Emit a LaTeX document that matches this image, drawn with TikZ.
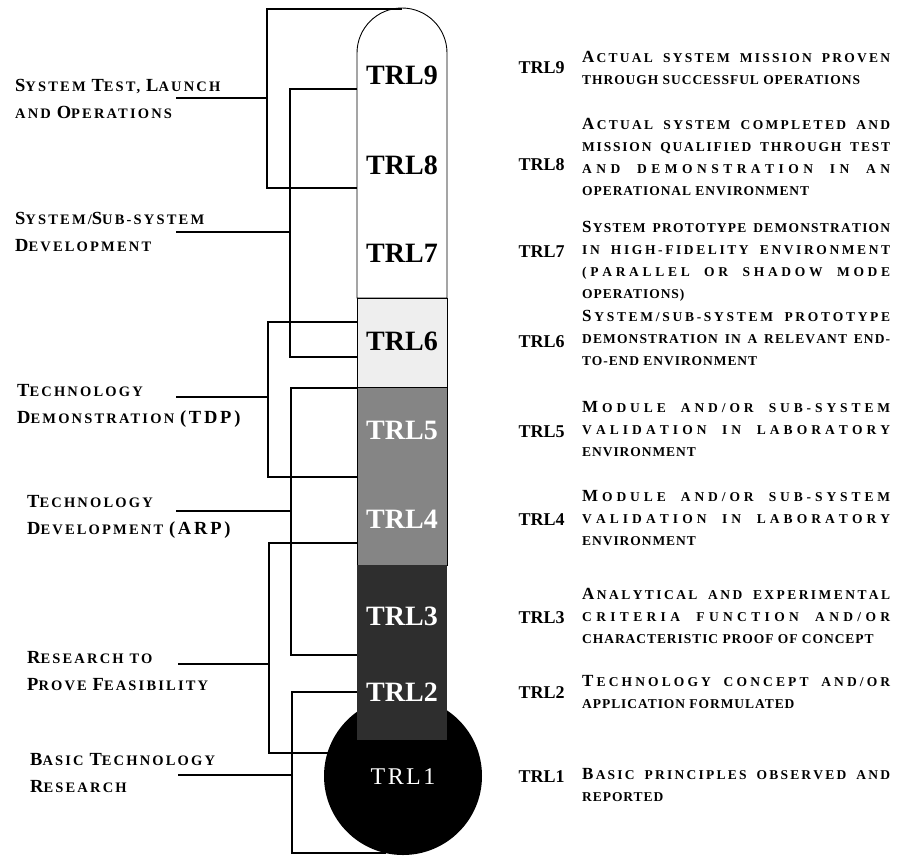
\documentclass[tikz,border=0pt]{standalone}
\usepackage{fontspec}
\setmainfont{Liberation Serif}
\newfontfamily\GrpFont[LetterSpace=15]{Liberation Serif Bold}
\newfontfamily\DescFont[LetterSpace=7]{Liberation Serif Bold}
\newfontfamily\BulbFont[LetterSpace=10]{Liberation Serif}
\usetikzlibrary{calc}
\definecolor{ThermoPale}{HTML}{EEEEEE}
\definecolor{ThermoMid}{HTML}{858585}
\definecolor{ThermoDark}{HTML}{2E2E2E}

\newcommand\GrpCap[1]{{\fontsize{18.5}{27}\selectfont #1}}
\newcommand\DescCap[1]{{\fontsize{17}{22}\selectfont #1}}
\ExplSyntaxOn
\NewDocumentCommand\DescSpread{m}{
  \str_map_inline:nn {#1}
    { \str_if_eq:nnTF {##1} {~} { \hskip 0.25em \hfil \hfil } { ##1 \hfil } }
  \unskip
}
\ExplSyntaxOff
\newcommand\DescLine[2]{\hbox to 308pt{\DescCap{#1}\hfil\DescSpread{#2}}}
\newcommand\DescFill[1]{\hbox to 308pt{\DescSpread{#1}}}

\tikzset{
  bracket/.style={line width=2.8pt},
  tubelbl/.style={font=\fontsize{28}{30}\selectfont\bfseries},
  sidelbl/.style={anchor=west,font=\fontsize{18}{20}\selectfont\bfseries},
  grplbl/.style={anchor=north west,align=left,inner sep=0pt,font=\GrpFont\fontsize{14.5}{27}\selectfont},
  desc/.style={anchor=north west,align=left,inner sep=0pt,font=\DescFont\fontsize{13.5}{22}\selectfont},
}

\begin{document}
\begin{tikzpicture}[x=1pt,y=1pt]
\useasboundingbox (0,0) rectangle (897,-855);
\fill[white] (0,0) rectangle (897,-855);
% thermometer
\fill[black] (403,-776) circle (79);
\draw[line width=0.9pt,fill=white] (357,-298) -- (357,-53) arc (180:0:45) -- (447,-298) -- cycle;
\draw[line width=0.9pt,fill=ThermoPale] (357,-298) rectangle (447,-387);
\draw[line width=0.9pt,fill=ThermoMid] (357,-387) rectangle (447,-565);
\fill[ThermoDark] (357,-565) rectangle (447,-740);
\node[tubelbl] (t9) at (402,-75) {TRL9};
\node[tubelbl] (t8) at (402,-165) {TRL8};
\node[tubelbl] (t7) at (402,-253) {TRL7};
\node[tubelbl] (t6) at (402,-341) {TRL6};
\node[tubelbl,text=white] (t5) at (402,-430) {TRL5};
\node[tubelbl,text=white] (t4) at (402,-519) {TRL4};
\node[tubelbl,text=white] (t3) at (402,-616) {TRL3};
\node[tubelbl,text=white] (t2) at (402,-692) {TRL2};
\node[text=white,font=\BulbFont\fontsize{24}{26}\selectfont] (t1) at (403,-777) {TRL1};

% stage groups on the left
\node[grplbl] (g1) at (15,-79) {\GrpCap{S}YSTEM \GrpCap{T}EST, \GrpCap{L}AUNCH\\AND \GrpCap{O}PERATIONS};
\node[grplbl] (g2) at (15,-212) {\GrpCap{S}YSTEM/\GrpCap{S}UB-SYSTEM\\\GrpCap{D}EVELOPMENT};
\node[grplbl] (g3) at (17,-384) {\GrpCap{T}ECHNOLOGY\\\GrpCap{D}EMONSTRATION \GrpCap{(TDP)}};
\node[grplbl] (g4) at (27,-495) {\GrpCap{T}ECHNOLOGY\\\GrpCap{D}EVELOPMENT \GrpCap{(ARP)}};
\node[grplbl] (g5) at (27,-651) {\GrpCap{R}ESEARCH TO\\\GrpCap{P}ROVE \GrpCap{F}EASIBILITY};
\node[grplbl] (g6) at (30,-753) {\GrpCap{B}ASIC \GrpCap{T}ECHNOLOGY\\\GrpCap{R}ESEARCH};

\coordinate (g1s) at (176,-98);  \coordinate (g1j) at (267,-98);
\coordinate (g1t) at (402,-9);   \coordinate (g1b) at (357,-188);
\coordinate (g2s) at (176,-232); \coordinate (g2j) at (290,-232);
\coordinate (g2t) at (357,-89);  \coordinate (g2b) at (357,-357);
\coordinate (g3s) at (176,-397); \coordinate (g3j) at (268,-397);
\coordinate (g3t) at (357,-322); \coordinate (g3b) at (357,-477);
\coordinate (g4s) at (176,-511); \coordinate (g4j) at (291,-511);
\coordinate (g4t) at (357,-388); \coordinate (g4b) at (357,-655);
\coordinate (g5s) at (178,-664); \coordinate (g5j) at (269,-664);
\coordinate (g5t) at (357,-543); \coordinate (g5b) at (330,-753);
\coordinate (g6s) at (178,-775); \coordinate (g6j) at (292,-775);
\coordinate (g6t) at (357,-692); \coordinate (g6b) at (386,-853);
\draw[bracket] (g1t) -| (g1j) |- (g1b); \draw[bracket] (g1s) -- (g1j);
\draw[bracket] (g2t) -| (g2j) |- (g2b); \draw[bracket] (g2s) -- (g2j);
\draw[bracket] (g3t) -| (g3j) |- (g3b); \draw[bracket] (g3s) -- (g3j);
\draw[bracket] (g4t) -| (g4j) |- (g4b); \draw[bracket] (g4s) -- (g4j);
\draw[bracket] (g5t) -| (g5j) |- (g5b); \draw[bracket] (g5s) -- (g5j);
\draw[bracket] (g6t) -| (g6j) |- (g6b); \draw[bracket] (g6s) -- (g6j);

% level descriptions on the right
\node[sidelbl] (r9) at (515,-68) {TRL9};
\node[sidelbl] (r8) at (515,-165) {TRL8};
\node[sidelbl] (r7) at (515,-252) {TRL7};
\node[sidelbl] (r6) at (515,-342) {TRL6};
\node[sidelbl] (r5) at (515,-432) {TRL5};
\node[sidelbl] (r4) at (515,-520) {TRL4};
\node[sidelbl] (r3) at (515,-618) {TRL3};
\node[sidelbl] (r2) at (515,-693) {TRL2};
\node[sidelbl] (r1) at (515,-777) {TRL1};
\node[desc] (d9) at (582,-51) {\DescLine{A}{CTUAL SYSTEM MISSION PROVEN}\\THROUGH SUCCESSFUL OPERATIONS};
\node[desc] (d8) at (582,-118) {\DescLine{A}{CTUAL SYSTEM COMPLETED AND}\\\DescFill{MISSION QUALIFIED THROUGH TEST}\\\DescFill{AND DEMONSTRATION IN AN}\\OPERATIONAL ENVIRONMENT};
\node[desc] (d7) at (582,-221) {\DescLine{S}{YSTEM PROTOTYPE DEMONSTRATION}\\\DescFill{IN HIGH-FIDELITY ENVIRONMENT}\\\DescFill{(PARALLEL OR SHADOW MODE}\\OPERATIONS)};
\node[desc] (d6) at (582,-310) {\DescLine{S}{YSTEM/SUB-SYSTEM PROTOTYPE}\\\DescFill{DEMONSTRATION IN A RELEVANT END-}\\TO-END ENVIRONMENT};
\node[desc] (d5) at (582,-401) {\DescLine{M}{ODULE AND/OR SUB-SYSTEM}\\\DescFill{VALIDATION IN LABORATORY}\\ENVIRONMENT};
\node[desc] (d4) at (582,-490) {\DescLine{M}{ODULE AND/OR SUB-SYSTEM}\\\DescFill{VALIDATION IN LABORATORY}\\ENVIRONMENT};
\node[desc] (d3) at (582,-588) {\DescLine{A}{NALYTICAL AND EXPERIMENTAL}\\\DescFill{CRITERIA FUNCTION AND/OR}\\CHARACTERISTIC PROOF OF CONCEPT};
\node[desc] (d2) at (582,-675) {\DescLine{T}{ECHNOLOGY CONCEPT AND/OR}\\APPLICATION FORMULATED};
\node[desc] (d1) at (582,-768) {\DescLine{B}{ASIC PRINCIPLES OBSERVED AND}\\REPORTED};
\end{tikzpicture}
\end{document}
